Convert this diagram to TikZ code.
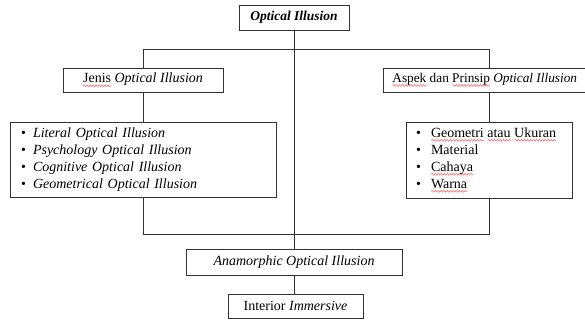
\documentclass[tikz,border=0pt]{standalone}
\usepackage{fontspec}
\setmainfont{Liberation Serif}
\usetikzlibrary{decorations.pathmorphing}
% red wavy underline, as a spell checker marks a word
\newcommand\spellw[1]{\setbox0\hbox{#1}\leavevmode\rlap{\tikz[baseline=0pt]\draw[red!65,line width=0.5pt,decorate,decoration={snake,amplitude=0.9pt,segment length=3pt}] (0pt,-3pt) -- (\the\wd0,-3pt);}\box0}
\newcommand\wsp{\hspace{0.25em}}
\newcommand\itemmark[1]{\makebox[#1][l]{\textbullet}}
\begin{document}
\begin{tikzpicture}[x=1pt,y=-1pt,
  box/.style={draw=black!80, line width=0.8pt, inner sep=0pt,
    font=\fontsize{14}{16}\selectfont},
  listbox/.style={box, align=left, font=\fontsize{14}{17}\selectfont},
  wire/.style={draw=black!80, line width=0.8pt}]
\useasboundingbox (0,0) rectangle (585,329);
\clip (0,0) rectangle (585,329);

% boxes
\node[box, minimum width=110, minimum height=25, font=\fontsize{13.5}{16}\selectfont] (top) at (294,17.5)
  {\textbf{\textit{Optical Illusion}}};
\node[box, minimum width=160, minimum height=24] (jenis) at (143,80)
  {\spellw{Jenis}\wsp\textit{Optical Illusion}};
\node[box, minimum height=24, anchor=west, inner xsep=9pt, font=\fontsize{13.3}{16}\selectfont] (aspek) at (383,80)
  {\spellw{Aspek}\wsp dan \spellw{Prinsip}\wsp\textit{Optical Illusion}\hspace{20pt}};
\node[listbox, text width=244, inner xsep=11pt, minimum height=75] (jlist) at (143,159.5)
  {\itemmark{12pt}\textit{Literal Optical Illusion}\\
   \itemmark{12pt}\textit{Psychology Optical Illusion}\\
   \itemmark{12pt}\textit{Cognitive Optical Illusion}\\
   \itemmark{12pt}\textit{Geometrical Optical Illusion}};
\node[listbox, text width=146, inner xsep=10pt, minimum height=76] (alist) at (489,160)
  {\itemmark{15pt}\spellw{Geometri}\wsp\spellw{atau}\wsp\spellw{Ukuran}\\
   \itemmark{15pt}Material\\
   \itemmark{15pt}\spellw{Cahaya}\\
   \itemmark{15pt}\spellw{Warna}};
\node[box, minimum width=216, minimum height=26] (anam) at (294,262)
  {\textit{Anamorphic Optical Illusion}};
\node[box, minimum width=135, minimum height=24] (inter) at (295.5,306)
  {Interior \textit{Immersive}};

% connectors
\coordinate (hl) at (143,49);
\coordinate (hr) at (489,49);
\coordinate (bl) at (143,234);
\coordinate (br) at (489,234);
\draw[wire] (top.south) -- (anam.north);
\draw[wire] (jenis.north) -- (hl) -- (hr) -- (hr |- aspek.north);
\draw[wire] (jenis.south) -- (jlist.north);
\draw[wire] (hr |- aspek.south) -- (alist.north);
\draw[wire] (jlist.south) -- (bl) -- (br) -- (alist.south);
\draw[wire] (anam.south) -- (anam.south |- inter.north);
\end{tikzpicture}
\end{document}
